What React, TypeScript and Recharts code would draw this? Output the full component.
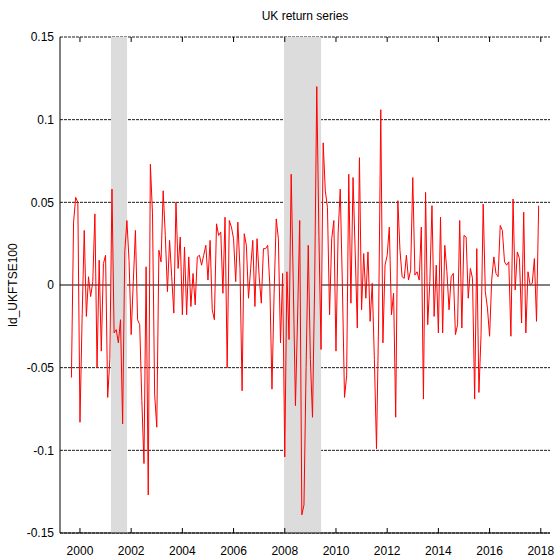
import { LineChart, Line, XAxis, YAxis, CartesianGrid, ReferenceArea, ReferenceLine } from 'recharts';

// monthly log returns, 1999:09 - 2017:12
const startYear = 1999;
const startMonth = 9;
const returns = [
  -0.056, 0.038, 0.053, 0.05, -0.083, -0.02, 0.033, -0.019, 0.005, -0.007,
  0.002, 0.043, -0.05, 0.015, -0.04, 0.013, 0.018, -0.068, -0.045, 0.058,
  -0.029, -0.027, -0.035, -0.021, -0.084, 0.02, 0.039, 0.015, -0.03, 0.002,
  0.033, -0.021, -0.024, -0.07, -0.108, 0.011, -0.127, 0.073, 0.043, -0.066,
  -0.086, 0.021, 0.014, 0.057, 0.03, -0.004, 0.027, 0.005, -0.017, 0.05,
  0.01, 0.029, -0.018, 0.023, -0.018, 0.017, -0.013, 0.007, -0.012, 0.017,
  0.018, 0.012, 0.018, 0.024, 0.003, 0.027, -0.015, -0.021, 0.037, 0.03,
  0.032, -0.005, 0.041, -0.05, 0.039, 0.035, 0.028, 0.002, 0.038, 0.01,
  -0.064, 0.031, 0.024, -0.008, 0.01, 0.027, -0.013, 0.028, 0.005, -0.011,
  0.022, 0.022, 0.024, 0.0, -0.063, -0.005, 0.04, 0.028, -0.035, 0.007,
  -0.104, 0.008, -0.033, 0.067, 0.0, -0.073, -0.02, 0.039, -0.139, -0.133,
  -0.05, 0.024, -0.045, -0.08, 0.0, 0.12, 0.03, -0.039, 0.086, 0.057,
  0.047, -0.018, 0.028, 0.039, -0.04, 0.031, 0.058, 0.0, -0.068, -0.055,
  0.067, -0.011, 0.065, 0.02, -0.026, 0.077, -0.015, 0.019, -0.008, 0.02,
  -0.022, 0.001, -0.045, -0.099, -0.02, 0.106, -0.035, 0.012, 0.018, 0.035,
  -0.018, -0.005, -0.08, 0.051, 0.021, 0.005, 0.004, 0.018, 0.003, 0.009,
  0.065, 0.006, 0.008, 0.003, 0.035, -0.069, 0.056, -0.024, 0.002, 0.048,
  -0.019, 0.012, -0.029, 0.041, -0.029, 0.024, 0.008, -0.015, 0.005, 0.007,
  -0.03, -0.024, 0.039, -0.026, 0.03, 0.029, -0.008, 0.01, 0.004, -0.069,
  0.022, -0.065, -0.03, 0.049, -0.004, -0.014, -0.031, 0.003, 0.017, 0.007,
  0.005, 0.036, 0.033, 0.014, 0.012, 0.014, -0.031, 0.052, -0.003, 0.02,
  0.016, -0.023, 0.044, -0.029, 0.008, 0.0, 0.001, 0.016, -0.022, 0.048,
];

const yearTicks = [2000, 2002, 2004, 2006, 2008, 2010, 2012, 2014, 2016, 2018];
const valueTicks = [-0.15, -0.1, -0.05, 0, 0.05, 0.1, 0.15];
const shadedPeriods = [
  [2001.21, 2001.84],
  [2007.97, 2009.42],
];

const data = returns.map((v, i) => ({
  t: startYear + (startMonth - 1 + i) / 12,
  ld_UKFTSE100: v,
}));

const xDomain = [1999.22, 2018.36];
const yDomain = [-0.15, 0.15];
const font = "'Liberation Sans Narrow', 'Liberation Sans', sans-serif";
const xLabelGap = 13;
const topTickLen = 0.003; // in y units, about 5px

// zero line solid, the rest dashed
const gridLine = (p: any) => (
  <line
    key={p.key}
    x1={p.x1}
    y1={p.y1}
    x2={p.x2}
    y2={p.y2}
    stroke={p.index === 3 ? '#000' : '#1a1a1a'}
    strokeWidth={1}
    strokeDasharray={p.index === 3 ? undefined : '3 1'}
  />
);

// bottom labels plus an inward tick mark (gnuplot style)
const bottomTick = (p: any) => (
  <g>
    <line x1={p.x} x2={p.x} y1={p.y - xLabelGap} y2={p.y - xLabelGap - 5} stroke="#000" strokeWidth={1} />
    <text x={p.x} y={p.y} dy="0.71em" textAnchor="middle" fill="#000" fontSize={12} fontFamily={font}>
      {p.payload.value}
    </text>
  </g>
);

export default function App() {
  return (
    <div style={{ position: 'absolute', left: 0, top: 0, width: 556, height: 560, background: '#fff', fontFamily: font }}>
      <div style={{ position: 'absolute', left: 205, width: 200, top: 9, textAlign: 'center', fontSize: 12, color: '#000' }}>
        UK return series
      </div>
      <div
        style={{
          position: 'absolute',
          left: 13,
          top: 285,
          transform: 'translate(-50%, -50%) rotate(-90deg)',
          fontSize: 12,
          color: '#000',
          whiteSpace: 'nowrap',
        }}
      >
        ld_UKFTSE100
      </div>
      <LineChart width={556} height={560} data={data} margin={{ top: 37, right: 6, bottom: 0, left: 0 }}>
        <CartesianGrid xAxisId="x" yAxisId="y" vertical={false} horizontal={gridLine} />
        {shadedPeriods.map(([a, b]) => (
          <ReferenceArea key={a} xAxisId="x" yAxisId="y" x1={a} x2={b} fill="#dcdcdc" fillOpacity={1} stroke="none" />
        ))}
        {yearTicks.map((yr) => (
          <ReferenceLine
            key={yr}
            xAxisId="x"
            yAxisId="y"
            segment={[
              { x: yr, y: yDomain[1] },
              { x: yr, y: yDomain[1] - topTickLen },
            ]}
            stroke="#000"
            strokeWidth={1}
          />
        ))}
        <XAxis
          xAxisId="x"
          dataKey="t"
          type="number"
          domain={xDomain}
          ticks={yearTicks}
          interval={0}
          allowDataOverflow
          height={27}
          tickLine={false}
          tickSize={0}
          tickMargin={xLabelGap}
          axisLine={{ stroke: '#000' }}
          tick={bottomTick}
        />
        <XAxis
          xAxisId="top"
          orientation="top"
          dataKey="t"
          type="number"
          domain={xDomain}
          ticks={yearTicks}
          allowDataOverflow
          height={0}
          tick={false}
          tickLine={false}
          axisLine={{ stroke: '#000' }}
        />
        <YAxis
          yAxisId="y"
          type="number"
          domain={yDomain}
          ticks={valueTicks}
          allowDataOverflow
          width={60}
          tickLine={false}
          tickSize={0}
          tickMargin={6}
          axisLine={{ stroke: '#000' }}
          tick={{ fill: '#000', fontSize: 12, fontFamily: font }}
        />
        <YAxis
          yAxisId="r"
          orientation="right"
          type="number"
          domain={yDomain}
          ticks={valueTicks}
          mirror
          width={0}
          tick={false}
          tickLine={false}
          axisLine={{ stroke: '#000' }}
        />
        <Line
          xAxisId="x"
          yAxisId="y"
          type="linear"
          dataKey="ld_UKFTSE100"
          stroke="#ff0000"
          strokeWidth={1}
          dot={false}
          isAnimationActive={false}
        />
      </LineChart>
    </div>
  );
}
